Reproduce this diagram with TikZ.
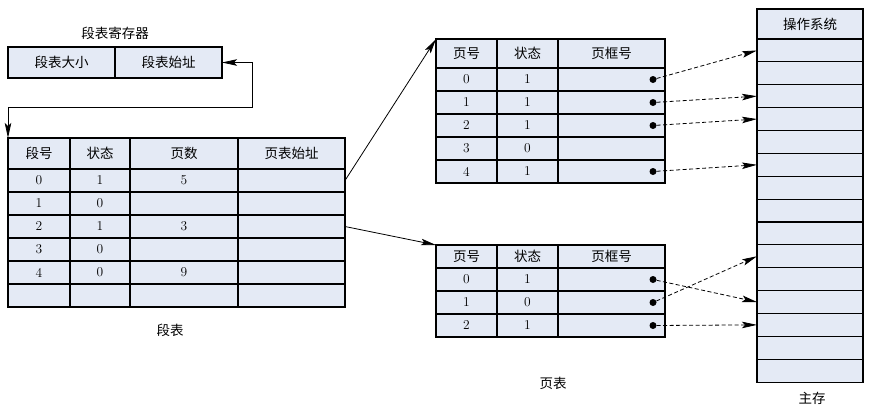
\documentclass[tikz,border=0pt]{standalone}
\usepackage{fontspec}
\newfontfamily\cjk{Noto Sans CJK SC}
\usetikzlibrary{arrows.meta}
\definecolor{cellbg}{HTML}{E4EAF5}

\begin{document}
\begin{tikzpicture}[x=1pt,y=-1pt,
  tipend/.style={-{Stealth[length=15pt,width=6.5pt,inset=3pt]}},
  tipboth/.style={{Stealth[length=15pt,width=6.5pt,inset=3pt]}-{Stealth[length=15pt,width=6.5pt,inset=3pt]}},
  cell/.style={draw,line width=1.1pt,fill=cellbg,anchor=north west,outer sep=0pt,inner sep=0pt,minimum height=23pt,font=\fontsize{13.5}{15}\selectfont},
  head/.style={cell,font=\cjk\fontsize{13.5}{15}\selectfont},
  lbl/.style={font=\cjk\fontsize{13.5}{15}\selectfont},
  dot/.style={circle,fill,inner sep=0pt,minimum size=7pt},
  ptr/.style={tipend,dash pattern=on 4pt off 2.5pt,line width=0.8pt}]
\useasboundingbox (0,0) rectangle (873,408);

% segment table register
\node[lbl] (regl) at (115,33) {段表寄存器};
\node[head,minimum width=107pt,minimum height=31pt] (reg1) at (8,47) {段表大小};
\node[head,minimum width=107pt,minimum height=31pt] (reg2) at (115,47) {段表始址};

% segment table
\node[head,minimum width=62pt,minimum height=31pt] (sh1) at (8,138) {段号};
\node[head,minimum width=60pt,minimum height=31pt] (sh2) at (70,138) {状态};
\node[head,minimum width=108pt,minimum height=31pt] (sh3) at (130,138) {页数};
\node[head,minimum width=107pt,minimum height=31pt] (sh4) at (238,138) {页表始址};
\foreach \a/\b/\c [count=\i] in {0/1/5,1/0/{},2/1/3,3/0/{},4/0/9,{}/{}/{}} {
  \node[cell,minimum width=62pt] (s\i-1) at (8,{169+(\i-1)*23}) {\a};
  \node[cell,minimum width=60pt] (s\i-2) at (70,{169+(\i-1)*23}) {\b};
  \node[cell,minimum width=108pt] (s\i-3) at (130,{169+(\i-1)*23}) {\c};
  \node[cell,minimum width=107pt] (s\i-4) at (238,{169+(\i-1)*23}) {};
}
\node[lbl] (segl) at (170,330) {段表};

\coordinate (turn) at (252,107);
\draw[tipboth,line width=0.8pt] (reg2.east) -| (turn) -| (sh1.north west);

% page table of segment 0
\node[head,minimum width=61pt,minimum height=29pt] (ph1) at (436,39) {页号};
\node[head,minimum width=61pt,minimum height=29pt] (ph2) at (497,39) {状态};
\node[head,minimum width=107pt,minimum height=29pt] (ph3) at (558,39) {页框号};
\foreach \a/\b [count=\i] in {0/1,1/1,2/1,3/0,4/1} {
  \node[cell,minimum width=61pt] (p\i-1) at (436,{68+(\i-1)*23}) {\a};
  \node[cell,minimum width=61pt] (p\i-2) at (497,{68+(\i-1)*23}) {\b};
  \node[cell,minimum width=107pt] (p\i-3) at (558,{68+(\i-1)*23}) {};
}

% page table of segment 2
\node[head,minimum width=61pt] (qh1) at (436,245) {页号};
\node[head,minimum width=61pt] (qh2) at (497,245) {状态};
\node[head,minimum width=107pt] (qh3) at (558,245) {页框号};
\foreach \a/\b [count=\i] in {0/1,1/0,2/1} {
  \node[cell,minimum width=61pt] (q\i-1) at (436,{268+(\i-1)*23}) {\a};
  \node[cell,minimum width=61pt] (q\i-2) at (497,{268+(\i-1)*23}) {\b};
  \node[cell,minimum width=107pt] (q\i-3) at (558,{268+(\i-1)*23}) {};
}
\node[lbl] (pagel) at (553,383) {页表};

\draw[tipend,line width=0.8pt] (s1-4.east) -- (ph1.north west);
\draw[tipend,line width=0.8pt] (s3-4.east) -- (qh1.north west);

% main memory
\node[head,minimum width=106pt,minimum height=30pt] (mh) at (757,9) {操作系统};
\foreach \k in {1,...,15}
  \node[cell,minimum width=106pt,minimum height=22.87pt] (m\k) at (757,{39+(\k-1)*22.87}) {};
\node[lbl] (meml) at (812,398) {主存};

% frame pointers
\node[dot] (d1) at (p1-3.east) [xshift=-12pt] {};
\node[dot] (d2) at (p2-3.east) [xshift=-12pt] {};
\node[dot] (d3) at (p3-3.east) [xshift=-12pt] {};
\node[dot] (d5) at (p5-3.east) [xshift=-12pt] {};
\node[dot] (e1) at (q1-3.east) [xshift=-12pt] {};
\node[dot] (e2) at (q2-3.east) [xshift=-12pt] {};
\node[dot] (e3) at (q3-3.east) [xshift=-12pt] {};
\draw[ptr] (d1) -- (m1.west);
\draw[ptr] (d2) -- (m3.west);
\draw[ptr] (d3) -- (m4.west);
\draw[ptr] (d5) -- (m6.west);
\draw[ptr] (e1) -- (m12.west);
\draw[ptr] (e2) -- (m10.west);
\draw[ptr] (e3) -- (m13.west);
\end{tikzpicture}
\end{document}
